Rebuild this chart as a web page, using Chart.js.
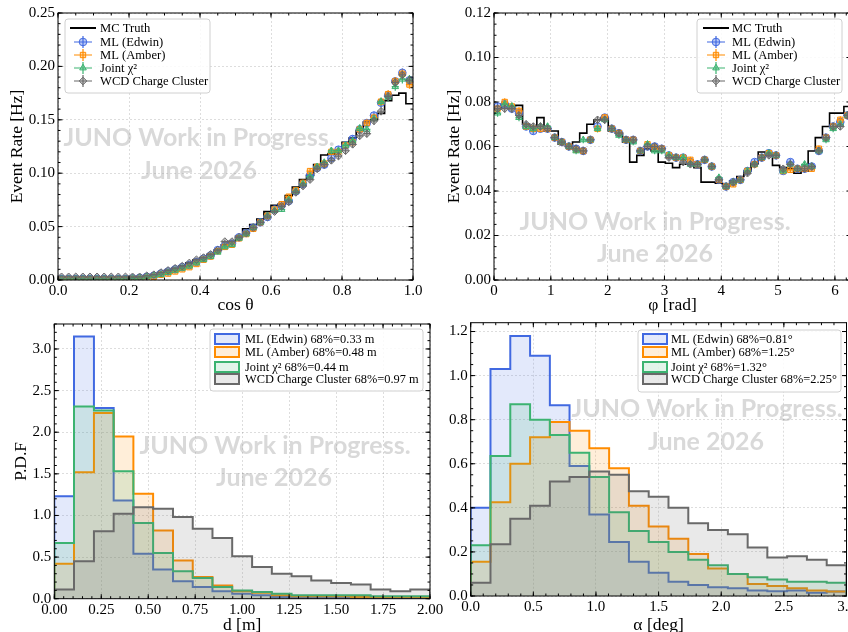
<!DOCTYPE html>
<html>
<head>
<meta charset="utf-8">
<script src="https://cdn.jsdelivr.net/npm/chart.js@4.4.1/dist/chart.umd.min.js"></script>
<style>
  html, body { margin: 0; padding: 0; background: #fff; overflow: hidden; width: 848px; height: 632px; }
  canvas { position: absolute; }
</style>
</head>
<body>
<canvas id="p1" width="424" height="316" style="left:0;top:0"></canvas>
<canvas id="p2" width="432" height="316" style="left:424px;top:0"></canvas>
<canvas id="p3" width="445" height="320" style="left:0;top:316px"></canvas>
<canvas id="p4" width="424" height="320" style="left:424px;top:316px"></canvas>
<script>
// ---- data ----
const cosEdges = [0.00,0.02,0.04,0.06,0.08,0.10,0.12,0.14,0.16,0.18,0.20,0.22,0.24,0.26,0.28,0.30,0.32,0.34,0.36,0.38,
  0.40,0.42,0.44,0.46,0.48,0.50,0.52,0.54,0.56,0.58,0.60,0.62,0.64,0.66,0.68,0.70,0.72,0.74,0.76,0.78,
  0.80,0.82,0.84,0.86,0.88,0.90,0.92,0.94,0.96,0.98,1.00];
const cosTruth = [0.001,0.001,0.001,0.001,0.001,0.001,0.001,0.001,0.001,0.0015,
  0.002,0.003,0.004,0.005,0.007,0.009,0.011,0.013,0.016,0.019,
  0.021,0.024,0.028,0.033,0.036,0.041,0.048,0.052,0.057,0.064,
  0.070,0.071,0.079,0.087,0.094,0.098,0.108,0.117,0.118,0.121,
  0.129,0.133,0.140,0.148,0.150,0.156,0.168,0.173,0.175,0.165];
const cosEdwin = [0.001,0.001,0.001,0.001,0.001,0.001,0.001,0.001,0.001,0.001,
  0.0015,0.002,0.003,0.004,0.006,0.008,0.010,0.012,0.014,0.017,
  0.020,0.023,0.028,0.032,0.034,0.040,0.044,0.049,0.054,0.059,
  0.066,0.070,0.074,0.083,0.090,0.098,0.105,0.108,0.114,0.122,
  0.126,0.132,0.141,0.147,0.154,0.166,0.173,0.186,0.194,0.187];
const cosAmber = [0.0005,0.0005,0.0005,0.0005,0.0005,0.0005,0.0005,0.0005,0.0005,0.0005,
  0.001,0.001,0.002,0.003,0.005,0.006,0.008,0.010,0.012,0.015,
  0.019,0.022,0.027,0.031,0.033,0.039,0.043,0.048,0.054,0.060,
  0.066,0.071,0.078,0.084,0.091,0.102,0.106,0.109,0.120,0.120,
  0.126,0.129,0.141,0.147,0.152,0.167,0.174,0.186,0.193,0.183];
const cosJoint = [0.001,0.001,0.001,0.001,0.001,0.001,0.001,0.001,0.001,0.001,
  0.0015,0.002,0.003,0.004,0.005,0.007,0.009,0.011,0.013,0.016,
  0.019,0.022,0.026,0.031,0.033,0.039,0.043,0.049,0.054,0.060,
  0.065,0.066,0.075,0.083,0.090,0.097,0.106,0.110,0.121,0.121,
  0.126,0.130,0.142,0.141,0.151,0.167,0.171,0.181,0.188,0.188];
const cosWcd = [0.003,0.003,0.003,0.003,0.003,0.003,0.003,0.003,0.003,0.003,
  0.003,0.003,0.004,0.005,0.007,0.009,0.011,0.013,0.016,0.019,
  0.021,0.024,0.028,0.036,0.036,0.040,0.044,0.049,0.054,0.059,
  0.064,0.069,0.073,0.082,0.088,0.094,0.104,0.108,0.112,0.116,
  0.121,0.127,0.135,0.137,0.149,0.158,0.172,0.185,0.192,0.187];

const phiEdges = [0,0.126,0.251,0.377,0.503,0.628,0.754,0.880,1.005,1.131,1.257,1.382,1.508,1.634,1.759,1.885,2.011,2.136,2.262,2.388,
  2.513,2.639,2.765,2.890,3.016,3.142,3.267,3.393,3.519,3.644,3.770,3.896,4.021,4.147,4.273,4.398,4.524,4.650,4.775,4.901,
  5.027,5.152,5.278,5.404,5.529,5.655,5.781,5.906,6.032,6.158,6.283];
const phiTruth = [0.077,0.079,0.078,0.0785,0.070,0.069,0.073,0.067,0.067,0.061,
  0.060,0.062,0.066,0.070,0.072,0.073,0.067,0.066,0.062,0.053,
  0.056,0.059,0.058,0.053,0.0525,0.0505,0.052,0.052,0.0505,0.044,
  0.044,0.0435,0.043,0.0445,0.0465,0.049,0.0525,0.0575,0.056,0.0515,
  0.0505,0.050,0.048,0.049,0.058,0.064,0.069,0.075,0.075,0.078];
const phiEdwin = [0.078,0.079,0.077,0.075,0.069,0.067,0.068,0.068,0.064,0.062,
  0.060,0.059,0.058,0.063,0.069,0.073,0.068,0.066,0.063,0.063,
  0.058,0.060,0.060,0.059,0.056,0.055,0.055,0.053,0.052,0.054,
  0.051,0.045,0.042,0.044,0.045,0.049,0.053,0.055,0.057,0.056,
  0.049,0.053,0.050,0.050,0.051,0.058,0.064,0.069,0.071,0.074];
const phiAmber = [0.077,0.080,0.078,0.076,0.069,0.068,0.068,0.068,0.064,0.062,
  0.060,0.0585,0.058,0.063,0.068,0.073,0.068,0.066,0.063,0.063,
  0.058,0.061,0.0595,0.059,0.056,0.055,0.055,0.054,0.052,0.054,
  0.051,0.045,0.042,0.043,0.045,0.049,0.052,0.055,0.057,0.056,
  0.049,0.0495,0.050,0.050,0.050,0.059,0.064,0.069,0.072,0.074];
const phiJoint = [0.075,0.079,0.078,0.073,0.069,0.068,0.069,0.069,0.064,0.062,
  0.060,0.058,0.063,0.063,0.068,0.072,0.068,0.065,0.063,0.062,
  0.058,0.061,0.058,0.058,0.056,0.055,0.055,0.052,0.052,0.054,
  0.051,0.046,0.042,0.044,0.045,0.049,0.052,0.055,0.057,0.056,
  0.049,0.052,0.050,0.052,0.051,0.058,0.063,0.068,0.070,0.074];
const phiWcd = [0.077,0.077,0.077,0.074,0.070,0.069,0.069,0.068,0.064,0.062,
  0.060,0.059,0.058,0.063,0.072,0.072,0.068,0.066,0.063,0.063,
  0.058,0.060,0.060,0.059,0.055,0.055,0.053,0.052,0.052,0.054,
  0.051,0.045,0.042,0.044,0.045,0.048,0.052,0.055,0.056,0.056,
  0.050,0.052,0.050,0.050,0.051,0.058,0.064,0.069,0.069,0.074];

const dEdges = [0,0.105,0.211,0.316,0.421,0.526,0.632,0.737,0.842,0.947,1.053,1.158,1.263,1.368,1.474,1.579,1.684,1.789,1.895,2.0];
const dEdwin = [1.23,3.15,2.29,1.18,0.54,0.35,0.21,0.14,0.09,0.06,0.04,0.02,0.01,0.01,0.01,0.005,0.005,0.003,0.003];
const dAmber = [0.42,1.52,2.23,1.95,1.26,0.82,0.46,0.26,0.16,0.09,0.07,0.04,0.03,0.03,0.03,0.02,0.02,0.02,0.02];
const dJoint = [0.67,2.31,2.26,1.53,0.91,0.55,0.33,0.25,0.14,0.10,0.08,0.06,0.04,0.04,0.04,0.04,0.03,0.03,0.03];
const dWcd = [0.11,0.45,0.81,1.02,1.10,1.08,0.98,0.84,0.73,0.51,0.38,0.30,0.27,0.22,0.19,0.17,0.11,0.09,0.11];

const aEdges = [0,0.158,0.316,0.474,0.632,0.789,0.947,1.105,1.263,1.421,1.579,1.737,1.895,2.053,2.211,2.368,2.526,2.684,2.842,3.0];
const aEdwin = [0.40,1.03,1.18,1.09,0.865,0.59,0.37,0.245,0.155,0.105,0.065,0.05,0.04,0.035,0.025,0.022,0.025,0.015,0.02];
const aAmber = [0.155,0.425,0.60,0.72,0.79,0.75,0.67,0.58,0.41,0.315,0.26,0.19,0.125,0.10,0.055,0.045,0.035,0.025,0.02];
const aJoint = [0.23,0.635,0.87,0.80,0.73,0.65,0.54,0.38,0.295,0.245,0.20,0.165,0.14,0.10,0.085,0.075,0.065,0.065,0.06];
const aWcd = [0.06,0.235,0.35,0.41,0.52,0.54,0.565,0.55,0.475,0.45,0.40,0.33,0.30,0.28,0.22,0.175,0.18,0.165,0.14];

const cosTicks = [0, 0.2, 0.4, 0.6, 0.8, 1.0];
const rateTicks1 = [0, 0.05, 0.10, 0.15, 0.20, 0.25];
const phiTicks = [0, 1, 2, 3, 4, 5, 6];
const rateTicks2 = [0, 0.02, 0.04, 0.06, 0.08, 0.10, 0.12];
const dTicks = [0, 0.25, 0.5, 0.75, 1.0, 1.25, 1.5, 1.75, 2.0];
const pdfTicks1 = [0, 0.5, 1.0, 1.5, 2.0, 2.5, 3.0];
const aTicks = [0, 0.5, 1.0, 1.5, 2.0, 2.5, 3.0];
const pdfTicks2 = [0, 0.2, 0.4, 0.6, 0.8, 1.0, 1.2];

const C_EDWIN = '65,105,225', C_AMBER = '255,140,0', C_JOINT = '60,179,113', C_WCD = '105,105,105';

// ---- helpers ----
const rgb = (c, a) => a === undefined ? `rgb(${c})` : `rgba(${c},${a})`;
const centers = e => e.slice(0, -1).map((v, i) => (v + e[i + 1]) / 2);
const stepPts = (e, v) => v.map((y, i) => ({x: e[i], y})).concat([{x: e[e.length - 1], y: v[v.length - 1]}]);
const histPts = (e, v) => [{x: e[0], y: 0}].concat(stepPts(e, v), [{x: e[e.length - 1], y: 0}]);

function errSeries(label, edges, vals, col, style, order, k) {
  return {
    label, data: centers(edges).map((x, i) => ({x, y: vals[i]})),
    showLine: false, pointStyle: style, pointRadius: 3.8,
    borderColor: rgb(col), backgroundColor: rgb(col, 0.35), pointBorderWidth: 1,
    xErr: (edges[1] - edges[0]) / 2, yErrK: k, order, sym: 'err'
  };
}
function histSeries(label, edges, vals, col, order) {
  return {
    label, data: histPts(edges, vals), stepped: 'before', fill: 'origin',
    borderColor: rgb(col), backgroundColor: rgb(col, 0.15), borderWidth: 2,
    pointRadius: 0, order, sym: 'patch'
  };
}

function axis(o) {
  return {
    type: 'linear', min: o.min, max: o.max,
    afterBuildTicks: s => { s.ticks = o.ticks.map(v => ({value: v})); },
    afterFit: s => {
      if (s.isHorizontal()) { s.height = o.size; s.paddingLeft = 0; s.paddingRight = 0; }
      else { s.width = o.size; s.paddingTop = 0; s.paddingBottom = 0; }
    },
    grid: { color: 'rgba(0,0,0,0.17)', drawTicks: false, lineWidth: 0.8 },
    border: { display: false, dash: [2, 2] },
    ticks: { padding: o.pad, autoSkip: false, maxRotation: 0, font: {size: 15},
      callback: v => v.toFixed(o.dec) },
    title: o.title ? { display: true, text: o.title, font: {size: 17.5}, padding: o.tpad } : {display: false}
  };
}

// ---- plugins ----
const errorBars = {
  id: 'errorBars',
  beforeDatasetDraw(chart, args) {
    const ds = chart.data.datasets[args.index];
    if (!ds.xErr) return;
    const {ctx, chartArea: a, scales: {x, y}} = chart;
    ctx.save();
    ctx.beginPath(); ctx.rect(a.left, a.top, a.right - a.left, a.bottom - a.top); ctx.clip();
    ctx.strokeStyle = ds.borderColor; ctx.lineWidth = 1.2;
    ds.data.forEach(p => {
      const e = ds.yErrK * Math.sqrt(p.y);
      const py = y.getPixelForValue(p.y), px = x.getPixelForValue(p.x);
      ctx.beginPath();
      ctx.moveTo(x.getPixelForValue(p.x - ds.xErr), py); ctx.lineTo(x.getPixelForValue(p.x + ds.xErr), py);
      ctx.moveTo(px, y.getPixelForValue(p.y - e)); ctx.lineTo(px, y.getPixelForValue(p.y + e));
      ctx.stroke();
    });
    ctx.restore();
  }
};

const frame = {
  id: 'frame',
  beforeDatasetsDraw(chart, args, o) {
    const {ctx} = chart;
    ctx.save();
    ctx.fillStyle = 'rgba(150,150,150,0.36)';
    ctx.font = 'bold 25px Lato';
    ctx.textAlign = 'center'; ctx.textBaseline = 'middle';
    ctx.fillText('JUNO Work in Progress.', o.wm[0], o.wm[1]);
    ctx.fillText('June 2026', o.wm[2], o.wm[3]);
    ctx.restore();
  },
  afterDatasetsDraw(chart, args, o) {
    const {ctx, chartArea: a, scales: {x, y}} = chart;
    ctx.save();
    ctx.strokeStyle = '#000'; ctx.lineWidth = 1;
    ctx.strokeRect(a.left, a.top, a.right - a.left, a.bottom - a.top);
    ctx.beginPath();
    const xt = (v, len) => { const p = x.getPixelForValue(v); ctx.moveTo(p, a.bottom); ctx.lineTo(p, a.bottom - len); ctx.moveTo(p, a.top); ctx.lineTo(p, a.top + len); };
    const yt = (v, len) => { const p = y.getPixelForValue(v); ctx.moveTo(a.left, p); ctx.lineTo(a.left + len, p); ctx.moveTo(a.right, p); ctx.lineTo(a.right - len, p); };
    x.ticks.forEach(t => xt(t.value, 4.5));
    y.ticks.forEach(t => yt(t.value, 4.5));
    for (let v = x.min; v <= x.max + 1e-9; v += o.xMinor) xt(v, 2.5);
    for (let v = y.min; v <= y.max + 1e-9; v += o.yMinor) yt(v, 2.5);
    ctx.stroke();
    ctx.restore();
  }
};

const boxLegend = {
  id: 'boxLegend',
  afterDraw(chart, args, o) {
    const {ctx} = chart;
    const H = Chart.helpers;
    ctx.save();
    ctx.beginPath();
    ctx.roundRect(o.box[0], o.box[1], o.box[2], o.box[3], 3);
    ctx.fillStyle = 'rgba(255,255,255,0.85)'; ctx.fill();
    ctx.strokeStyle = '#d0d0d0'; ctx.lineWidth = 1; ctx.stroke();
    ctx.font = o.size + "px 'Liberation Serif'";
    ctx.textBaseline = 'middle'; ctx.textAlign = 'left';
    chart.data.datasets.forEach((ds, i) => {
      const yy = o.rows[i], sx = o.symX;
      if (ds.sym === 'line') {
        ctx.strokeStyle = ds.borderColor; ctx.lineWidth = 2;
        ctx.beginPath(); ctx.moveTo(sx - 13, yy); ctx.lineTo(sx + 13, yy); ctx.stroke();
      } else if (ds.sym === 'err') {
        ctx.strokeStyle = ds.borderColor; ctx.lineWidth = 1.2;
        ctx.beginPath(); ctx.moveTo(sx - 9, yy); ctx.lineTo(sx + 9, yy);
        ctx.moveTo(sx, yy - 6); ctx.lineTo(sx, yy + 6); ctx.stroke();
        ctx.fillStyle = ds.backgroundColor; ctx.lineWidth = 1;
        H.drawPoint(ctx, {pointStyle: ds.pointStyle, radius: 3.8, rotation: 0, borderWidth: 1}, sx, yy);
      } else {
        ctx.fillStyle = ds.backgroundColor; ctx.strokeStyle = ds.borderColor; ctx.lineWidth = 2;
        ctx.fillRect(sx - 12, yy - 5, 24, 10); ctx.strokeRect(sx - 12, yy - 5, 24, 10);
      }
      ctx.fillStyle = '#000';
      ctx.fillText(ds.label, o.textX, yy + 0.5);
    });
    ctx.restore();
  }
};

Chart.defaults.font.family = "'Liberation Serif', 'Times New Roman', serif";
Chart.defaults.color = '#000';
Chart.defaults.animation = false;
Chart.defaults.plugins.legend.display = false;
Chart.defaults.plugins.tooltip.enabled = false;
Chart.register(errorBars, frame, boxLegend);

function make(id, datasets, scales, pad, plugins) {
  return new Chart(document.getElementById(id), {
    type: 'line',
    data: { datasets },
    options: { responsive: false, layout: { padding: pad }, scales, plugins }
  });
}

// ---- panel 1: cos theta ----
make('p1', [
  { label: 'MC Truth', data: stepPts(cosEdges, cosTruth), stepped: 'before', borderColor: '#000', borderWidth: 1.6, pointRadius: 0, fill: false, order: 5, sym: 'line' },
  errSeries('ML (Edwin)', cosEdges, cosEdwin, C_EDWIN, 'circle', 4, 0.0092),
  errSeries('ML (Amber)', cosEdges, cosAmber, C_AMBER, 'rect', 3, 0.0092),
  errSeries('Joint χ²', cosEdges, cosJoint, C_JOINT, 'triangle', 2, 0.0092),
  errSeries('WCD Charge Cluster', cosEdges, cosWcd, C_WCD, 'rectRot', 1, 0.0092)
], {
  x: axis({min: 0, max: 1, ticks: cosTicks, dec: 1, size: 36, pad: 2, title: 'cos θ', tpad: {top: 0, bottom: 0}}),
  y: axis({min: 0, max: 0.25, ticks: rateTicks1, dec: 2, size: 58, pad: 3, title: 'Event Rate [Hz]', tpad: {top: 7, bottom: 0}})
}, {left: 0, top: 13, right: 11, bottom: 0}, {
  frame: {xMinor: 0.05, yMinor: 0.01, wm: [199, 138, 199, 171]},
  boxLegend: {box: [65, 19, 145, 74], rows: [28, 42, 55, 68, 81], symX: 83, textX: 100, size: 12.6}
});

// ---- panel 2: phi ----
make('p2', [
  { label: 'MC Truth', data: stepPts(phiEdges, phiTruth), stepped: 'before', borderColor: '#000', borderWidth: 1.6, pointRadius: 0, fill: false, order: 5, sym: 'line' },
  errSeries('ML (Edwin)', phiEdges, phiEdwin, C_EDWIN, 'circle', 4, 0.006),
  errSeries('ML (Amber)', phiEdges, phiAmber, C_AMBER, 'rect', 3, 0.006),
  errSeries('Joint χ²', phiEdges, phiJoint, C_JOINT, 'triangle', 2, 0.006),
  errSeries('WCD Charge Cluster', phiEdges, phiWcd, C_WCD, 'rectRot', 1, 0.006)
], {
  x: axis({min: 0, max: 6.2832, ticks: phiTicks, dec: 0, size: 36, pad: 2, title: 'φ [rad]', tpad: {top: 0, bottom: 0}}),
  y: axis({min: 0, max: 0.12, ticks: rateTicks2, dec: 2, size: 70, pad: 3, title: 'Event Rate [Hz]', tpad: {top: 19.5, bottom: 0}})
}, {left: 0, top: 13, right: 4, bottom: 0}, {
  frame: {xMinor: 0.2, yMinor: 0.005, wm: [231, 222, 231, 254]},
  boxLegend: {box: [273, 19, 145, 74], rows: [28, 42, 55, 68, 81], symX: 292, textX: 308, size: 12.6}
});

// ---- panel 3: d ----
make('p3', [
  histSeries('ML (Edwin) 68%=0.33 m', dEdges, dEdwin, C_EDWIN, 4),
  histSeries('ML (Amber) 68%=0.48 m', dEdges, dAmber, C_AMBER, 3),
  histSeries('Joint χ² 68%=0.44 m', dEdges, dJoint, C_JOINT, 2),
  histSeries('WCD Charge Cluster 68%=0.97 m', dEdges, dWcd, C_WCD, 1)
], {
  x: axis({min: 0, max: 2, ticks: dTicks, dec: 2, size: 37.3, pad: 2, title: 'd [m]', tpad: {top: 0, bottom: 0.5}}),
  y: axis({min: 0, max: 3.3, ticks: pdfTicks1, dec: 1, size: 54.3, pad: 3, title: 'P.D.F', tpad: {top: 10.5, bottom: 0}})
}, {left: 0, top: 8, right: 15, bottom: 0}, {
  frame: {xMinor: 0.05, yMinor: 0.1, wm: [275, 130, 274, 162]},
  boxLegend: {box: [210, 13, 213, 62], rows: [23, 36, 51, 63], symX: 227, textX: 245, size: 12.4}
});

// ---- panel 4: alpha ----
make('p4', [
  histSeries('ML (Edwin) 68%=0.81°', aEdges, aEdwin, C_EDWIN, 4),
  histSeries('ML (Amber) 68%=1.25°', aEdges, aAmber, C_AMBER, 3),
  histSeries('Joint χ² 68%=1.32°', aEdges, aJoint, C_JOINT, 2),
  histSeries('WCD Charge Cluster 68%=2.25°', aEdges, aWcd, C_WCD, 1)
], {
  x: axis({min: 0, max: 3, ticks: aTicks, dec: 1, size: 40, pad: 2, title: 'α [deg]', tpad: {top: 0, bottom: 0}}),
  y: axis({min: 0, max: 1.24, ticks: pdfTicks2, dec: 1, size: 46.7, pad: 3})
}, {left: 0, top: 6.7, right: 1.5, bottom: 0}, {
  frame: {xMinor: 0.1, yMinor: 0.05, wm: [283, 93, 282, 126]},
  boxLegend: {box: [214, 14, 203, 62], rows: [23, 36, 51, 63], symX: 231, textX: 247, size: 12.4}
});
</script>
</body>
</html>
